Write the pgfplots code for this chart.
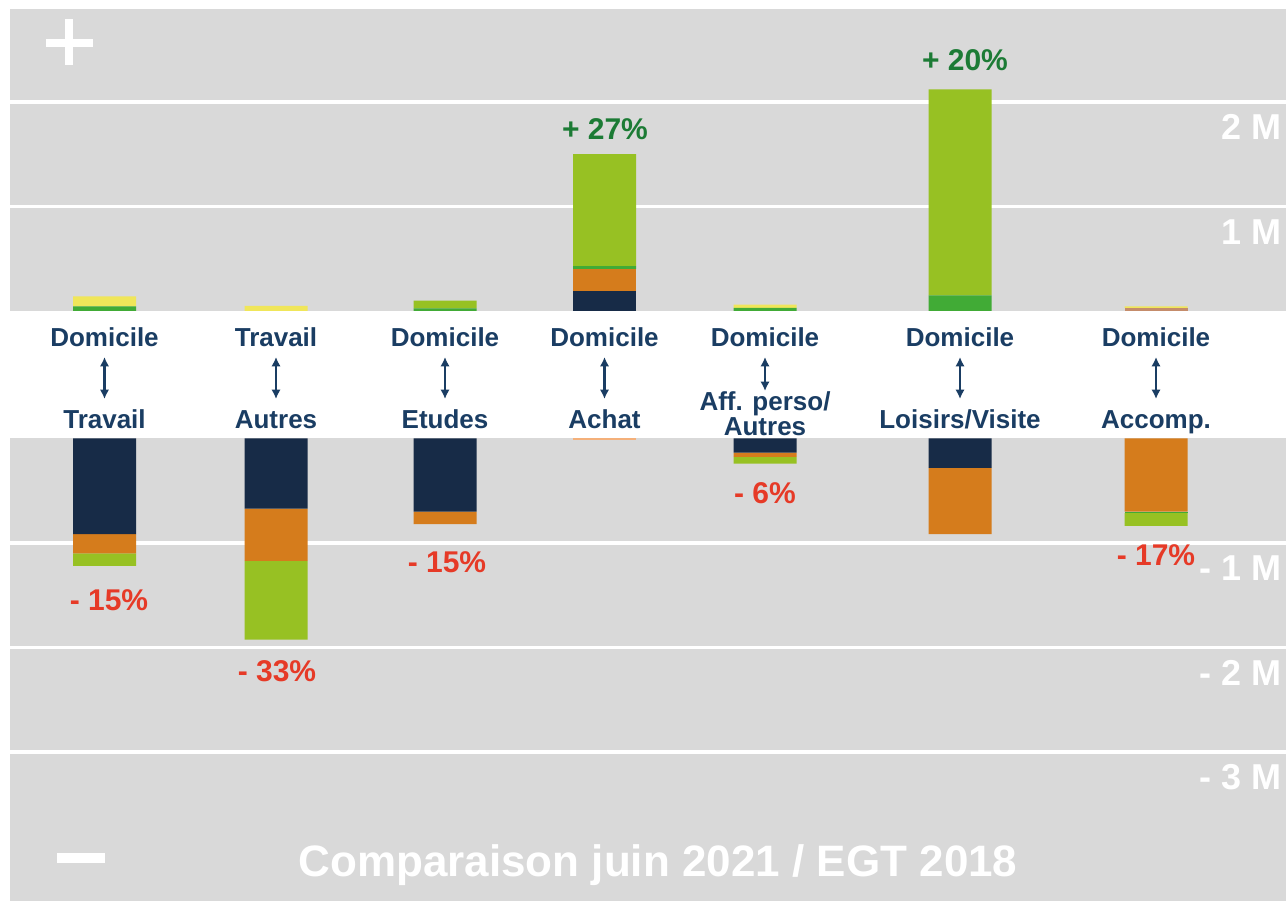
\documentclass[border=0pt]{standalone}
\usepackage{pgfplots}
\usepackage{pgfplotstable}
\pgfplotsset{compat=1.18}
\usepackage{fontspec}
\setmainfont{Liberation Sans}
\usetikzlibrary{arrows.meta}
\definecolor{bg}{HTML}{D9D9D9}
\definecolor{navy}{HTML}{172B47}
\definecolor{orng}{HTML}{D57C1C}
\definecolor{lorng}{HTML}{F4B07A}
\definecolor{mauve}{HTML}{C58C6B}
\definecolor{dgreen}{HTML}{41AB36}
\definecolor{lgreen}{HTML}{97C123}
\definecolor{yell}{HTML}{F0E65A}
\definecolor{labnavy}{HTML}{1A3D63}
\definecolor{pgreen}{HTML}{1C7B35}
\definecolor{pred}{HTML}{E63A27}

\pgfplotstableread{
x navy mauve orange dg lg yellow
104.5 0 0 0 0.045 0 0.095
276 0 0 0 0 0 0.048
445 0 0 0 0.025 0.075 0
604.5 0.19 0 0.21 0.03 1.07 0
765 0 0 0 0.03 0 0.03
960 0 0 0 0.15 1.97 0
1156 0 0.03 0 0 0 0.015
}\toptable

\pgfplotstableread{
x navy lorange orange dg lg
104.5 -0.915 0 -0.185 0 -0.12
276 -0.67 0 -0.50 0 -0.755
445 -0.70 0 -0.12 0 0
604.5 0 -0.015 0 0 0
765 -0.135 0 -0.04 0 -0.065
960 -0.28 0 -0.635 0 0
1156 0 0 -0.70 -0.012 -0.125
}\bottable

\pgfplotsset{
  barbase/.style={
    scale only axis, width=957pt, xmin=10, xmax=1286,
    axis background/.style={fill=bg},
    axis line style={draw=none},
    xtick=\empty, yticklabels={}, major tick length=0pt,
    ymajorgrids, grid style={white, line width=2.4pt},
    ybar stacked, bar width=63,
  },
}
\tikzset{
  tlab/.style={white, font=\fontsize{27pt}{30pt}\selectfont\bfseries, anchor=north east, inner sep=0pt},
  pctg/.style={pgreen, font=\fontsize{22.5pt}{25pt}\selectfont\bfseries, inner sep=0pt},
  pctr/.style={pred, font=\fontsize{22.5pt}{25pt}\selectfont\bfseries, inner sep=0pt},
}

\begin{document}
\begin{tikzpicture}
\fill[white] (0,0) rectangle (964.5pt,675.75pt);

% top (positive) axis
\begin{axis}[barbase, at={(7.5pt,442.5pt)}, anchor=south west,
  height=226.5pt, ymin=0, ymax=2.890, ytick={1,2}]
\addplot[fill=navy, draw=none] table[x=x,y=navy] {\toptable};
\addplot[fill=mauve, draw=none] table[x=x,y=mauve] {\toptable};
\addplot[fill=orng, draw=none] table[x=x,y=orange] {\toptable};
\addplot[fill=dgreen, draw=none] table[x=x,y=dg] {\toptable};
\addplot[fill=lgreen, draw=none] table[x=x,y=lg] {\toptable};
\addplot[fill=yell, draw=none] table[x=x,y=yellow] {\toptable};
\node[tlab] at (axis cs:1282,1.88) {2 M};
\node[tlab] at (axis cs:1282,0.88) {1 M};
\node[pctg] at (axis cs:605,1.74) {+ 27\%};
\node[pctg] at (axis cs:965,2.40) {+ 20\%};
\end{axis}

% bottom (negative) axis
\begin{axis}[barbase, at={(7.5pt,0pt)}, anchor=south west,
  height=346.875pt, ymin=-4.426, ymax=0, ytick={-1,-2,-3}]
\addplot[fill=navy, draw=none] table[x=x,y=navy] {\bottable};
\addplot[fill=lorng, draw=none] table[x=x,y=lorange] {\bottable};
\addplot[fill=orng, draw=none] table[x=x,y=orange] {\bottable};
\addplot[fill=dgreen, draw=none] table[x=x,y=dg] {\bottable};
\addplot[fill=lgreen, draw=none] table[x=x,y=lg] {\bottable};
\node[tlab] at (axis cs:1282,-1.12) {- 1 M};
\node[tlab] at (axis cs:1282,-2.12) {- 2 M};
\node[tlab] at (axis cs:1282,-3.12) {- 3 M};
\node[pctr] at (axis cs:109,-1.545) {- 15\%};
\node[pctr] at (axis cs:277,-2.23) {- 33\%};
\node[pctr] at (axis cs:447,-1.18) {- 15\%};
\node[pctr] at (axis cs:765,-0.52) {- 6\%};
\node[pctr] at (axis cs:1156,-1.115) {- 17\%};
\end{axis}

% labels in the white band and decorations (pixel coordinates)
\begin{scope}[x=0.75pt, y=-0.75pt, yshift=675.75pt,
  cat/.style={labnavy, font=\fontsize{19.5pt}{19pt}\selectfont\bfseries, inner sep=0pt, anchor=base, align=center},
  arr/.style={labnavy, line width=1.6pt, {Latex[length=7pt,width=7pt]}-{Latex[length=7pt,width=7pt]}}]
\foreach \xx/\top/\bot in {104.5/Domicile/Travail, 276/Travail/Autres, 445/Domicile/Etudes, 604.5/Domicile/Achat, 960/Domicile/Loisirs\slash Visite, 1156/Domicile/Accomp.}{
  \node[cat] at (\xx,346.7) {\top};
  \node[cat] at (\xx,428.3) {\bot};
  \draw[arr] (\xx,357) -- (\xx,399);
}
\node[cat] at (765,346.7) {Domicile};
\draw[arr] (765,357) -- (765,391);
\node[cat] at (765,410.7) {Aff. perso/};
\node[cat] at (765,436) {Autres};
% plus and minus signs
\draw[white, line width=6pt] (69.3,19) -- (69.3,65);
\draw[white, line width=6pt] (46,43) -- (92.7,43);
\draw[white, line width=7pt] (57,858) -- (105,858);
% title
\node[white, font=\fontsize{33pt}{36pt}\selectfont\bfseries, anchor=base, inner sep=0pt] at (658,876) {Comparaison juin 2021 / EGT 2018};
\end{scope}

\pgfresetboundingbox
\path[use as bounding box] (0,0) rectangle (964.5pt,675.75pt);
\end{tikzpicture}
\end{document}
